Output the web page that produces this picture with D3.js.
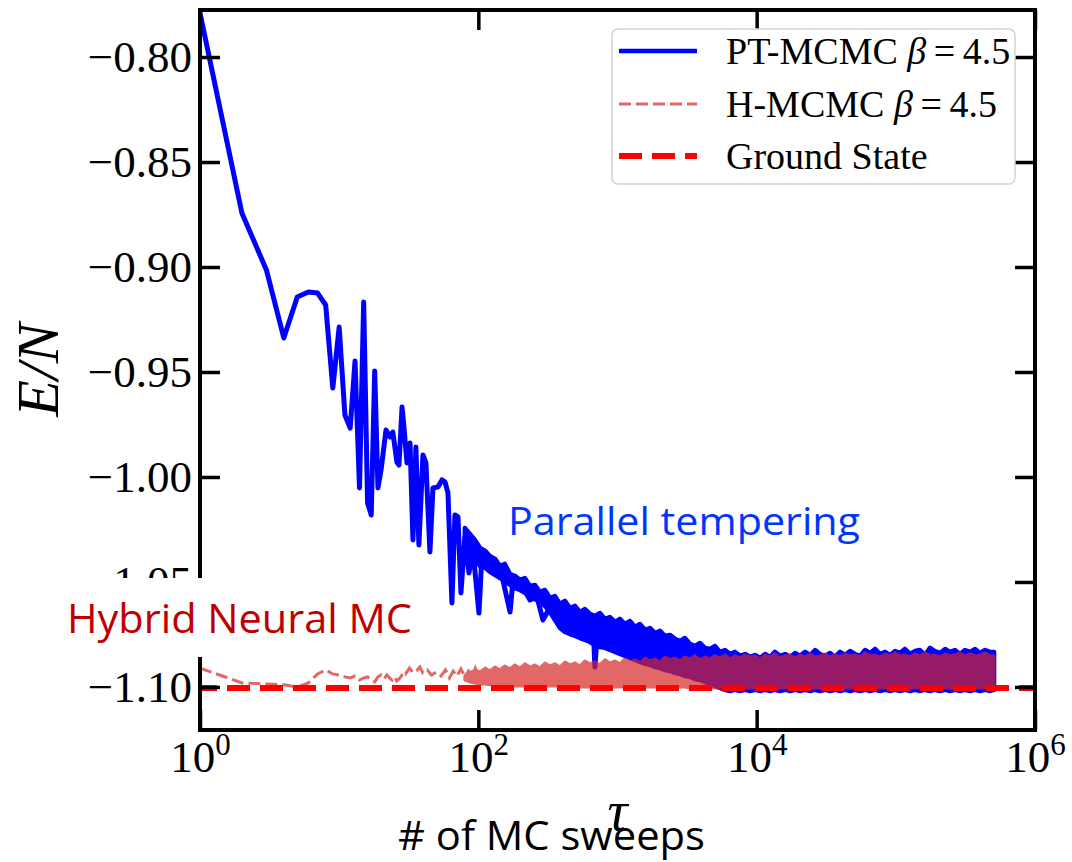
<!DOCTYPE html>
<html>
<head>
<meta charset="utf-8">
<script src="https://cdn.jsdelivr.net/npm/d3@7"></script>
<style>
body { margin: 0; background: #fff; }
</style>
</head>
<body>
<svg id="plot" width="1072" height="862"></svg>
<script>
var xTicks = [1, 1e2, 1e4, 1e6];
var yTicks = [-0.80, -0.85, -0.90, -0.95, -1.00, -1.05, -1.10];
var groundState = -1.1005;

// PT-MCMC, early sweeps (single visible trace)
var ptTau = [1, 2, 3, 4, 5, 6, 7, 8, 9, 10, 11, 12, 13, 14, 15, 16, 17, 18, 19, 20,
  21.7, 23.2, 24.3, 26, 26.9, 28.3, 29.2, 30.7, 32.3, 33.9,
  35.6, 37.4, 40, 42, 44.9, 47.2, 51.3, 54.8, 57.6, 60.5,
  64.6, 67.9, 71.4, 75, 80.1, 85.6, 91.5, 101, 106, 115,
  136, 150, 169, 177, 209, 235, 264, 291, 344, 433,
  537, 666, 688, 723, 882];
var ptE = [-0.7790, -0.8743, -0.9014, -0.9338, -0.9143, -0.9119, -0.9124, -0.9181, -0.9576, -0.9286,
  -0.9705, -0.9767, -0.9448, -1.0052, -0.9167, -1.0124, -1.0181, -0.9495, -1.0052, -0.9967,
  -0.9776, -0.9810, -0.9786, -0.9929, -0.9943, -0.9667, -0.9762, -0.9933, -0.9838, -1.0300,
  -0.9857, -1.0324, -0.9895, -0.9933, -1.0357, -1.0052, -1.0048, -1.0014, -1.0024, -1.0076,
  -1.0600, -1.0181, -1.0190, -1.0552, -1.0286, -1.0457, -1.0348, -1.0648, -1.0381, -1.0429,
  -1.0419, -1.0490, -1.0643, -1.0500, -1.0524, -1.0586, -1.0571, -1.0681, -1.0595, -1.0729,
  -1.0667, -1.0681, -1.0905, -1.0705, -1.0720];

// dense part: sweeps where the traces fill a band
var bandTau = [80, 87, 94.5, 103, 112, 121, 132, 143, 155, 169,
  183, 199, 216, 235, 255, 277, 301, 327, 355, 386,
  419, 455, 495, 537, 584, 634, 689, 748, 813, 883,
  959, 1040, 1130, 1230, 1340, 1450, 1580, 1710, 1860, 2020,
  2190, 2380, 2590, 2810, 3050, 3320, 3600, 3920, 4250, 4620,
  5020, 5450, 5920, 6430, 6990, 7590, 8250, 8960, 9730, 10600,
  11500, 12500, 13500, 14700, 16000, 17400, 18900, 20500, 22300, 24200,
  26300, 28500, 31000, 33700, 36600, 39700, 43200, 46900, 50900, 55300,
  60100, 65300, 70900, 77000, 83700, 90900, 98700, 107000, 116000, 127000,
  137000, 149000, 162000, 176000, 191000, 208000, 226000, 245000, 266000, 289000,
  314000, 342000, 371000, 403000, 438000, 476000, 508000];

// PT-MCMC band, upper and lower edge
var ptHi = [-1.0243, -1.0271, -1.0300, -1.0338, -1.0352, -1.0376, -1.0390, -1.0424, -1.0414, -1.0462,
  -1.0471, -1.0490, -1.0481, -1.0519, -1.0514, -1.0548, -1.0538, -1.0576, -1.0567, -1.0605,
  -1.0590, -1.0624, -1.0614, -1.0643, -1.0629, -1.0652, -1.0662, -1.0648, -1.0676, -1.0667,
  -1.0690, -1.0676, -1.0700, -1.0686, -1.0714, -1.0700, -1.0729, -1.0719, -1.0743, -1.0733,
  -1.0757, -1.0752, -1.0771, -1.0781, -1.0767, -1.0795, -1.0805, -1.0791, -1.0814, -1.0819,
  -1.0805, -1.0833, -1.0824, -1.0843, -1.0833, -1.0852, -1.0843, -1.0857, -1.0848, -1.0862,
  -1.0843, -1.0857, -1.0833, -1.0852, -1.0843, -1.0857, -1.0838, -1.0852, -1.0833, -1.0848,
  -1.0824, -1.0843, -1.0852, -1.0838, -1.0857, -1.0833, -1.0848, -1.0829, -1.0843, -1.0852,
  -1.0824, -1.0838, -1.0819, -1.0843, -1.0833, -1.0848, -1.0829, -1.0838, -1.0819, -1.0843,
  -1.0829, -1.0824, -1.0848, -1.0814, -1.0829, -1.0838, -1.0819, -1.0833, -1.0824, -1.0843,
  -1.0824, -1.0833, -1.0819, -1.0838, -1.0824, -1.0833, -1.0833];
var ptLo = [-1.0338, -1.0376, -1.0400, -1.0424, -1.0433, -1.0452, -1.0467, -1.0481, -1.0495, -1.0514,
  -1.0529, -1.0538, -1.0552, -1.0567, -1.0581, -1.0595, -1.0614, -1.0643, -1.0681, -1.0719,
  -1.0738, -1.0748, -1.0757, -1.0767, -1.0776, -1.0786, -1.0800, -1.0810, -1.0814, -1.0824,
  -1.0833, -1.0843, -1.0852, -1.0862, -1.0871, -1.0881, -1.0890, -1.0895, -1.0905, -1.0910,
  -1.0919, -1.0924, -1.0933, -1.0938, -1.0948, -1.0952, -1.0962, -1.0967, -1.0976, -1.0986,
  -1.0995, -1.1005, -1.1014, -1.1019, -1.1014, -1.1019, -1.1014, -1.1019, -1.1014, -1.1019,
  -1.1014, -1.1019, -1.1014, -1.1019, -1.1014, -1.1019, -1.1014, -1.1019, -1.1014, -1.1019,
  -1.1014, -1.1019, -1.1014, -1.1019, -1.1014, -1.1019, -1.1014, -1.1019, -1.1014, -1.1019,
  -1.1014, -1.1019, -1.1014, -1.1019, -1.1014, -1.1019, -1.1014, -1.1019, -1.1014, -1.1019,
  -1.1014, -1.1019, -1.1014, -1.1019, -1.1014, -1.1019, -1.1014, -1.1019, -1.1014, -1.1019,
  -1.1014, -1.1019, -1.1014, -1.1019, -1.1014, -1.1019, -1.1014];

// H-MCMC, early sweeps
var hTau = [1, 2, 3, 4, 5, 6, 7, 8, 9, 10, 11, 12, 13, 14, 15, 16, 17, 18, 19, 20,
  21, 22, 23, 24, 25, 26, 27, 28, 29, 30, 32, 34, 36, 38, 40, 43, 46, 50, 54, 58,
  62, 66, 70, 75, 80, 85, 90, 95, 100];
var hE = [-1.0910, -1.0981, -1.0986, -1.0990, -1.1000, -1.0981, -1.0938, -1.0919, -1.0938, -1.0943,
  -1.0952, -1.0957, -1.0948, -1.0967, -1.0957, -1.0952, -1.0971, -1.0976, -1.0952, -1.0943,
  -1.0962, -1.0943, -1.0957, -1.0967, -1.0952, -1.0971, -1.0962, -1.0948, -1.0929, -1.0938,
  -1.0910, -1.0933, -1.0924, -1.0905, -1.0933, -1.0919, -1.0943, -1.0929, -1.0948, -1.0919,
  -1.0957, -1.0924, -1.0948, -1.0914, -1.0952, -1.0924, -1.0943, -1.0910, -1.0948];

// H-MCMC band, upper and lower edge
var hHi = [-1.0948, -1.0933, -1.0919, -1.0929, -1.0910, -1.0924, -1.0905, -1.0919, -1.0900, -1.0914,
  -1.0895, -1.0910, -1.0890, -1.0905, -1.0895, -1.0910, -1.0886, -1.0900, -1.0890, -1.0905,
  -1.0881, -1.0895, -1.0886, -1.0900, -1.0876, -1.0890, -1.0881, -1.0895, -1.0871, -1.0886,
  -1.0876, -1.0890, -1.0867, -1.0881, -1.0871, -1.0886, -1.0862, -1.0876, -1.0867, -1.0881,
  -1.0857, -1.0871, -1.0862, -1.0876, -1.0857, -1.0867, -1.0852, -1.0871, -1.0857, -1.0867,
  -1.0852, -1.0862, -1.0848, -1.0867, -1.0852, -1.0862, -1.0848, -1.0857, -1.0852, -1.0867,
  -1.0848, -1.0857, -1.0843, -1.0862, -1.0852, -1.0848, -1.0862, -1.0848, -1.0857, -1.0843,
  -1.0857, -1.0852, -1.0843, -1.0857, -1.0848, -1.0857, -1.0843, -1.0852, -1.0848, -1.0857,
  -1.0838, -1.0852, -1.0848, -1.0857, -1.0843, -1.0852, -1.0838, -1.0852, -1.0848, -1.0857,
  -1.0843, -1.0852, -1.0838, -1.0852, -1.0848, -1.0857, -1.0843, -1.0852, -1.0848, -1.0838,
  -1.0852, -1.0843, -1.0852, -1.0848, -1.0838, -1.0852, -1.0852];
var hLo = [-1.0967, -1.0976, -1.0981, -1.0986, -1.0986, -1.0990, -1.0990, -1.0995, -1.0995, -1.0995,
  -1.0995, -1.0995, -1.0995, -1.0995, -1.0995, -1.0995, -1.0995, -1.0995, -1.0995, -1.0995,
  -1.1000, -1.1000, -1.1000, -1.1000, -1.1000, -1.1000, -1.1000, -1.1000, -1.1000, -1.1000,
  -1.1000, -1.1000, -1.1000, -1.1000, -1.1000, -1.1000, -1.1000, -1.1000, -1.1000, -1.1000,
  -1.1000, -1.1000, -1.1000, -1.1000, -1.1000, -1.1005, -1.1005, -1.1005, -1.1005, -1.1005,
  -1.1005, -1.1005, -1.1005, -1.1005, -1.1005, -1.1005, -1.1005, -1.1005, -1.1005, -1.1005,
  -1.1005, -1.1005, -1.1005, -1.1005, -1.1005, -1.1005, -1.1005, -1.1005, -1.1005, -1.1005,
  -1.1005, -1.1005, -1.1005, -1.1005, -1.1005, -1.1005, -1.1005, -1.1005, -1.1005, -1.1005,
  -1.1005, -1.1005, -1.1005, -1.1005, -1.1005, -1.1005, -1.1005, -1.1005, -1.1005, -1.1005,
  -1.1005, -1.1005, -1.1005, -1.1005, -1.1005, -1.1005, -1.1005, -1.1005, -1.1005, -1.1005,
  -1.1005, -1.1005, -1.1005, -1.1005, -1.1005, -1.1005, -1.1005];

var svg = d3.select("#plot"),
  margin = {top: 10, right: 37, bottom: 132, left: 200},
  width = +svg.attr("width") - margin.left - margin.right,
  height = +svg.attr("height") - margin.top - margin.bottom,
  g = svg.append("g").attr("transform", "translate(" + margin.left + "," + margin.top + ")");

var serif = "'Liberation Serif', 'Times New Roman', serif";
var sans = "'Open Sans', 'Noto Sans', sans-serif";

var x = d3.scaleLog().domain([1, 1e6]).range([0, width]);
var y = d3.scaleLinear().domain([-1.1205, -0.7776]).range([height, 0]);

svg.append("defs").append("clipPath").attr("id", "clip")
  .append("rect").attr("width", width).attr("height", height);

var plotArea = g.append("g").attr("clip-path", "url(#clip)");

var line = d3.line()
  .x(function (d) { return x(d[0]); })
  .y(function (d) { return y(d[1]); });

var band = d3.area()
  .x(function (d) { return x(d[0]); })
  .y0(function (d) { return y(d[2]); })
  .y1(function (d) { return y(d[1]); });

var ptPts = ptTau.map(function (t, i) { return [t, ptE[i]]; });
var ptBand = bandTau.map(function (t, i) { return [t, ptHi[i], ptLo[i]]; });
var hPts = hTau.map(function (t, i) { return [t, hE[i]]; });
var hBand = bandTau.map(function (t, i) { return [t, hHi[i], hLo[i]]; });

// PT-MCMC
plotArea.append("path")
  .datum(ptBand)
  .attr("d", band)
  .attr("fill", "#0000ff")
  .attr("stroke", "#0000ff")
  .attr("stroke-width", 4.5)
  .attr("stroke-linejoin", "round");

plotArea.append("path")
  .datum(ptPts)
  .attr("d", line)
  .attr("fill", "none")
  .attr("stroke", "#0000ff")
  .attr("stroke-width", 5)
  .attr("stroke-linejoin", "round");

// H-MCMC, semi transparent over the blue
var hGroup = plotArea.append("g").attr("opacity", 0.7);

hGroup.append("path")
  .datum(hBand)
  .attr("d", band)
  .attr("fill", "#d62728")
  .attr("stroke", "#d62728")
  .attr("stroke-width", 3)
  .attr("stroke-linejoin", "round");

hGroup.append("path")
  .datum(hPts)
  .attr("d", line)
  .attr("fill", "none")
  .attr("stroke", "#d62728")
  .attr("stroke-width", 3)
  .attr("stroke-dasharray", "12,5");

// ground state
plotArea.append("line")
  .attr("x1", 0)
  .attr("x2", width)
  .attr("y1", y(groundState))
  .attr("y2", y(groundState))
  .attr("stroke", "#ff0000")
  .attr("stroke-width", 6)
  .attr("stroke-dasharray", "23,10")
  .attr("stroke-dashoffset", 6);

// axes, ticks pointing inward
var xAxis = g.append("g")
  .attr("transform", "translate(0," + height + ")")
  .call(d3.axisBottom(x).tickValues(xTicks).tickSizeInner(-20).tickSizeOuter(0).tickPadding(10));

xAxis.selectAll(".tick text").each(function (d) {
  var t = d3.select(this);
  t.text("10");
  t.append("tspan")
    .attr("dy", -17)
    .style("font-size", "31px")
    .text(Math.round(Math.log10(d)));
});

g.append("g")
  .call(d3.axisTop(x).tickValues(xTicks).tickSizeInner(-20).tickSizeOuter(0).tickFormat(""));

g.append("g")
  .call(d3.axisLeft(y).tickValues(yTicks).tickSizeInner(-20).tickSizeOuter(0).tickPadding(8)
    .tickFormat(d3.format(".2f")));

g.append("g")
  .attr("transform", "translate(" + width + ",0)")
  .call(d3.axisRight(y).tickValues(yTicks).tickSizeInner(-20).tickSizeOuter(0).tickFormat(""));

g.selectAll(".domain").remove();
g.selectAll(".tick line").attr("stroke", "#000").attr("stroke-width", 3.5);
g.selectAll(".tick text")
  .attr("fill", "#000")
  .style("font-family", serif)
  .style("font-size", "45px");

g.append("rect")
  .attr("width", width)
  .attr("height", height)
  .attr("fill", "none")
  .attr("stroke", "#000")
  .attr("stroke-width", 4);

// axis titles
svg.append("text")
  .attr("transform", "translate(58," + (margin.top + height / 2) + ") rotate(-90)")
  .attr("text-anchor", "middle")
  .style("font-family", serif)
  .style("font-style", "italic")
  .style("font-size", "60px")
  .text("E/N");

svg.append("text")
  .attr("x", margin.left + width / 2)
  .attr("y", 830)
  .attr("text-anchor", "middle")
  .style("font-family", serif)
  .style("font-style", "italic")
  .style("font-size", "56px")
  .text("τ");

// legend
var legend = svg.append("g");
legend.append("rect")
  .attr("x", 612).attr("y", 29)
  .attr("width", 403).attr("height", 155)
  .attr("rx", 6)
  .attr("fill", "#fff")
  .attr("fill-opacity", 0.85)
  .attr("stroke", "#d4d4d4")
  .attr("stroke-width", 1.5);

var legendItems = [
  {name: "PT-MCMC ", beta: true, color: "#0000ff", width: 4.5, dash: null, opacity: 1},
  {name: "H-MCMC ", beta: true, color: "#d62728", width: 3, dash: "12,5", opacity: 0.7},
  {name: "Ground State", beta: false, color: "#ff0000", width: 6, dash: "23,10", opacity: 1}
];
var rowY = [51, 104, 156];

legendItems.forEach(function (item, i) {
  legend.append("line")
    .attr("x1", 619).attr("x2", 697)
    .attr("y1", rowY[i]).attr("y2", rowY[i])
    .attr("stroke", item.color)
    .attr("stroke-width", item.width)
    .attr("stroke-opacity", item.opacity)
    .attr("stroke-dasharray", item.dash);
  var t = legend.append("text")
    .attr("x", 726)
    .attr("y", rowY[i] + 13)
    .style("font-family", serif)
    .style("font-size", "38px")
    .text(item.name);
  if (item.beta) {
    t.append("tspan").style("font-style", "italic").text("β");
    t.append("tspan").text("\u2009=\u20094.5");
  }
});

// annotations pasted on top of the figure
svg.append("rect")
  .attr("x", 0).attr("y", 578)
  .attr("width", 446).attr("height", 79)
  .attr("fill", "#fff");

svg.append("text")
  .attr("x", 67).attr("y", 633)
  .attr("textLength", 345)
  .attr("lengthAdjust", "spacingAndGlyphs")
  .attr("fill", "#c00000")
  .style("font-family", sans)
  .style("font-size", "40px")
  .text("Hybrid Neural MC");

svg.append("text")
  .attr("x", 508).attr("y", 535)
  .attr("textLength", 352)
  .attr("lengthAdjust", "spacingAndGlyphs")
  .attr("fill", "#0035ff")
  .style("font-family", sans)
  .style("font-size", "39px")
  .text("Parallel tempering");

svg.append("text")
  .attr("x", 398).attr("y", 850)
  .attr("textLength", 307)
  .attr("lengthAdjust", "spacingAndGlyphs")
  .attr("fill", "#000")
  .style("font-family", sans)
  .style("font-size", "40px")
  .text("# of MC sweeps");
</script>
</body>
</html>
